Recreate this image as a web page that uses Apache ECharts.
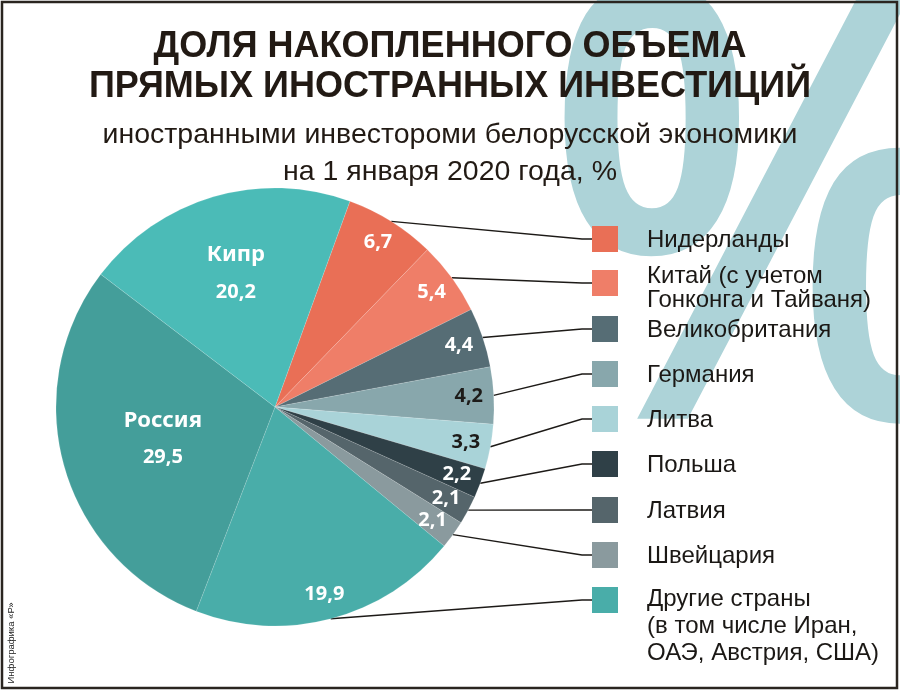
<!DOCTYPE html>
<html><head><meta charset="utf-8">
<script src="https://cdn.jsdelivr.net/npm/echarts@6/dist/echarts.min.js"></script>
<style>html,body{margin:0;padding:0;background:#fff}#c{width:900px;height:690px}</style>
</head><body><div id="c"></div>
<script>
// ---- data ----
const categories = [
  'Нидерланды',
  'Китай (с учетом\nГонконга и Тайваня)',
  'Великобритания',
  'Германия',
  'Литва',
  'Польша',
  'Латвия',
  'Швейцария',
  'Другие страны\n(в том числе Иран,\nОАЭ, Австрия, США)',
  'Россия',
  'Кипр'
];
const values = [6.7, 5.4, 4.4, 4.2, 3.3, 2.2, 2.1, 2.1, 19.9, 29.5, 20.2];
const titleLines = ['ДОЛЯ НАКОПЛЕННОГО ОБЪЕМА', 'ПРЯМЫХ ИНОСТРАННЫХ ИНВЕСТИЦИЙ'];
const subtitleLines = ['иностранными инвестороми белорусской экономики', 'на 1 января 2020 года, %'];
const creditText = 'Инфографика «Р»';

// ---- style / layout ----
const colors = ['#e96f56', '#ef7e68', '#566d75', '#88a7ac', '#a9d3d8', '#2f4047', '#55656b', '#8a9a9e', '#49ada9', '#449e9a', '#4bbbb7'];
const valueColors = ['#fff', '#fff', '#fff', '#1d1b19', '#1d1b19', '#fff', '#fff', '#fff', '#fff', '#fff', '#fff'];
const legendCount = 9;
const rowY = [239, 283, 329, 374, 419, 464, 510, 555, 600];
const CX = 275, CY = 407, R = 219;
const START = 70;
const pieFont = '"Noto Sans", Roboto, sans-serif';
const txtFont = '"Liberation Sans", Arial, sans-serif';
const fmt = v => v.toFixed(1).replace('.', ',');

const base = {
  type: 'pie', center: [CX, CY], startAngle: START, clockwise: true,
  avoidLabelOverlap: false, animation: false, silent: true,
  emphasis: { disabled: true }
};
const transparent = { color: 'rgba(0,0,0,0)', borderWidth: 0 };

const series = [];
// main pie + legend squares with leader lines
series.push(Object.assign({}, base, {
  radius: [0, R], z: 2,
  itemStyle: { borderColor: 'rgba(255,255,255,0.25)', borderWidth: 0.5 },
  labelLine: { show: true, length: 10, length2: 10, smooth: false, lineStyle: { color: '#1d1a17', width: 1.4 } },
  data: values.map((v, i) => ({
    name: categories[i], value: v,
    itemStyle: { color: colors[i] },
    label: i < legendCount
      ? { show: true, position: 'outside', padding: 0, overflow: 'none', formatter: '{sq|}',
          rich: { sq: { width: 26, height: 26, backgroundColor: colors[i] } } }
      : { show: false },
    labelLine: { show: i < legendCount }
  })),
  labelLayout: p => p.dataIndex < legendCount
    ? { x: 592, y: rowY[p.dataIndex], align: 'left', verticalAlign: 'middle' } : {}
}));
// legend names
series.push(Object.assign({}, base, {
  radius: [0, R], z: 3, itemStyle: transparent,
  labelLine: { show: false },
  label: { show: true, position: 'outside', color: '#1b1815', fontFamily: txtFont, fontSize: 24,
           lineHeight: 25, overflow: 'none', formatter: p => p.name },
  data: values.map((v, i) => ({
    name: categories[i], value: v,
    label: i < legendCount ? { lineHeight: i === 8 ? 27 : 24 } : { show: false }
  })),
  labelLayout: p => {
    const i = p.dataIndex;
    if (i >= legendCount) return {};
    if (i === 8) return { x: 647, y: rowY[i] - 14, align: 'left', verticalAlign: 'top' };
    if (i === 1) return { x: 647, y: rowY[i] + 5, align: 'left', verticalAlign: 'middle' };
    return { x: 647, y: rowY[i] + 1, align: 'left', verticalAlign: 'middle' };
  }
}));
// values near rim
series.push(Object.assign({}, base, {
  radius: [163, R], z: 4, itemStyle: transparent,
  labelLine: { show: false },
  data: values.map((v, i) => ({
    name: categories[i], value: v,
    label: i < legendCount
      ? { show: true, position: 'inside', color: valueColors[i], fontFamily: pieFont, fontWeight: 'bold', fontSize: 20, formatter: p => fmt(p.value) }
      : { show: false }
  }))
}));
// big slices with names
function bigLabel(idx, r0) {
  return Object.assign({}, base, {
    radius: [r0, R], z: 4, itemStyle: transparent,
    labelLine: { show: false },
    data: values.map((v, i) => ({
      name: categories[i], value: v,
      label: i === idx
        ? { show: true, position: 'inside', color: '#fff', fontFamily: pieFont,
            formatter: p => '{n|' + p.name + '}\n{v|' + fmt(p.value) + '}',
            rich: { n: { fontFamily: pieFont, fontWeight: 'bold', fontSize: 22, lineHeight: 37, color: '#fff' },
                    v: { fontFamily: pieFont, fontWeight: 'bold', fontSize: 20, lineHeight: 37, color: '#fff' } } }
        : { show: false }
    }))
  });
}
series.push(bigLabel(10, 53));
series.push(bigLabel(9, 8));

const option = {
  backgroundColor: '#ffffff',
  title: [
    { text: titleLines.join('\n'), left: 'center', top: 22,
      textStyle: { fontFamily: txtFont, fontWeight: 'bold', fontSize: 36, lineHeight: 40, color: '#221a14' } },
    { text: subtitleLines.join('\n'), left: 445, top: 112, textAlign: 'center',
      textStyle: { fontFamily: txtFont, fontWeight: 'normal', fontSize: 28.5, lineHeight: 37, color: '#221a14' } }
  ],
  graphic: [
    { type: 'text', z: 0, silent: true, x: 552, y: -70, scaleX: 0.8, scaleY: 1,
      style: { text: '%', font: 'bold 630px "Liberation Sans", sans-serif', fill: '#add3d8', align: 'left', verticalAlign: 'top' } },
    { type: 'rect', z: 10, silent: true, shape: { x: 2, y: 2, width: 895, height: 686 },
      style: { fill: 'none', stroke: '#2a2520', lineWidth: 2.5 } },
    { type: 'text', z: 10, silent: true, x: 11, y: 643, rotation: Math.PI / 2,
      style: { text: creditText, font: '9.5px "Liberation Sans", Arial, sans-serif', fill: '#222', align: 'center', verticalAlign: 'middle' } }
  ],
  series: series
};
const chart = echarts.init(document.getElementById('c'));
chart.setOption(option);
</script>
</body></html>
